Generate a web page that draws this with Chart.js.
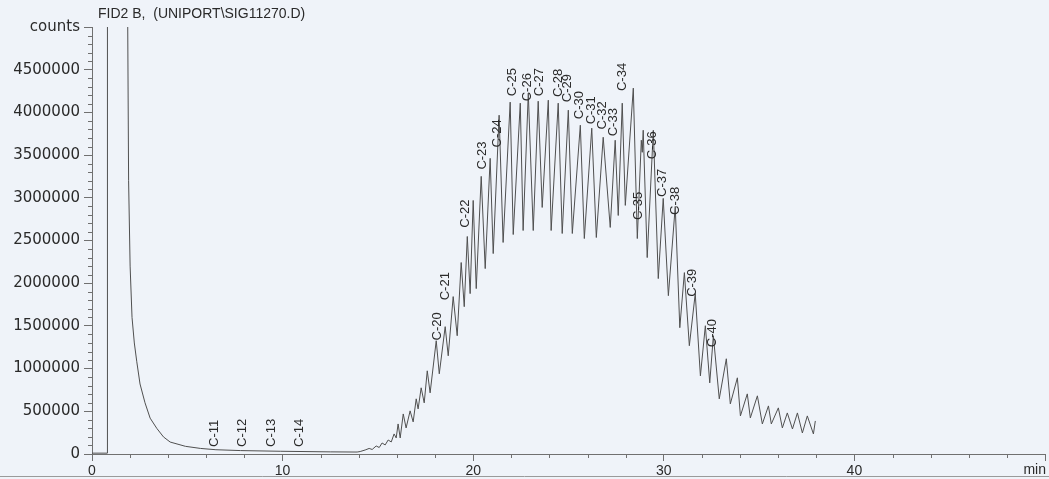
<!DOCTYPE html>
<html><head><meta charset="utf-8">
<script src="https://cdn.jsdelivr.net/npm/chart.js@4.4.1/dist/chart.umd.min.js"></script>
<style>html,body{margin:0;padding:0;background:#eff3f9;overflow:hidden}</style>
</head><body>
<canvas id="c" width="1049" height="479"></canvas>
<script>
// ---- data (retention time in min, signal in counts) ----
const times = [0, 0.80, 0.81, 1.86, 1.92, 2.00, 2.10, 2.22, 2.35, 2.52, 2.78, 3.05, 3.40, 3.75, 4.10, 4.90, 5.70, 6.50, 7.80, 9.90, 12.50, 13.91,
  14.07, 14.33, 14.54, 14.70, 14.91, 15.07, 15.22, 15.38, 15.54, 15.70, 15.85, 15.96, 16.06, 16.17, 16.33, 16.48, 16.69, 16.85,
  17.01, 17.11, 17.27, 17.43, 17.59, 17.74, 18.06, 18.22, 18.53, 18.69, 18.95, 19.16, 19.37, 19.53, 19.69, 19.84, 20.00, 20.16,
  20.42, 20.63, 20.89, 21.05, 21.36, 21.57, 21.94, 22.10, 22.47, 22.62, 22.89, 23.15, 23.41, 23.62, 23.94, 24.09, 24.46, 24.67,
  24.99, 25.20, 25.62, 25.83, 26.22, 26.46, 26.82, 27.19, 27.45, 27.61, 27.82, 27.98, 28.40, 28.61, 28.82, 28.87, 28.92, 29.13,
  29.45, 29.71, 29.97, 30.24, 30.60, 30.84, 31.08, 31.34, 31.65, 31.92, 32.18, 32.41, 32.60, 32.91, 33.28, 33.49, 33.86, 34.02,
  34.38, 34.54, 34.91, 35.17, 35.49, 35.64, 36.01, 36.22, 36.48, 36.75, 37.01, 37.27, 37.53, 37.85, 37.95];
const counts = [10000, 10000, 5600000, 5600000, 3200000, 2200000, 1600000, 1300000, 1080000, 820000, 600000, 420000, 300000, 200000, 140000, 90000, 65000, 50000, 40000, 32000, 25000, 23000,
  29000, 47000, 65000, 53000, 94000, 76000, 129000, 106000, 164000, 141000, 235000, 188000, 352000, 188000, 469000, 305000, 505000, 376000,
  646000, 528000, 775000, 599000, 974000, 716000, 1326000, 939000, 1491000, 1150000, 1843000, 1385000, 2242000, 1725000, 2547000, 1878000, 2969000, 1937000,
  3251000, 2171000, 3462000, 2347000, 3967000, 2477000, 4120000, 2570000, 4108000, 2617000, 4225000, 2617000, 4131000, 2887000, 4143000, 2617000, 4108000, 2582000,
  4026000, 2582000, 3850000, 2523000, 3815000, 2535000, 3709000, 2653000, 3674000, 2793000, 4108000, 2911000, 4284000, 2523000, 3674000, 3533000, 3791000, 2300000,
  3791000, 2054000, 2993000, 1854000, 2899000, 1479000, 2124000, 1268000, 1878000, 915000, 1502000, 833000, 1385000, 646000, 1115000, 587000, 892000, 446000,
  704000, 423000, 681000, 352000, 563000, 352000, 540000, 305000, 481000, 293000, 481000, 246000, 446000, 235000, 387000];

// ---- peak annotations ----
const peakNames = ['C-11','C-12','C-13','C-14','C-20','C-21','C-22','C-23','C-24','C-25','C-26','C-27','C-28','C-29','C-30',
  'C-31','C-32','C-33','C-34','C-35','C-36','C-37','C-38','C-39','C-40'];
const peakTimes = [6.40, 7.87, 9.40, 10.87, 18.11, 18.53, 19.58, 20.47, 21.26, 22.05, 22.83, 23.46, 24.46, 24.93, 25.56,
  26.19, 26.77, 27.35, 27.85, 28.66, 29.40, 29.92, 30.60, 31.50, 32.55];
const peakLabelCounts = [82000, 82000, 82000, 82000, 1330000, 1800000, 2650000, 3330000, 3590000, 4190000, 4130000, 4190000, 4180000, 4120000, 3920000,
  3860000, 3800000, 3720000, 4250000, 2740000, 3450000, 3010000, 2800000, 1840000, 1250000];

// ---- axes text ----
const titleText = 'FID2 B,  (UNIPORT\\SIG11270.D)';
const xMax = 50, yMax = 5000000;
const xUnitLabel = 'min';
const yTopLabel = 'counts';

const BG = '#eff3f9', AX = '#707070', TXT = '#2a2a2a';

const decor = {
  id: 'decor',
  beforeDraw(chart) {
    const c = chart.ctx;
    c.save(); c.fillStyle = BG; c.fillRect(0, 0, chart.width, chart.height); c.restore();
  },
  afterDraw(chart) {
    const c = chart.ctx, xs = chart.scales.x, ys = chart.scales.y;
    c.save();
    c.strokeStyle = AX; c.lineWidth = 1;
    c.beginPath();
    for (let t = 2; t < xMax; t += 2) {
      if (t % 10 === 0) continue;
      const px = Math.round(xs.getPixelForValue(t)) + 0.5;
      c.moveTo(px, xs.top); c.lineTo(px, xs.top + 4);
    }
    for (let v = 100000; v < yMax; v += 100000) {
      if (v % 500000 === 0) continue;
      const py = Math.round(ys.getPixelForValue(v)) + 0.5;
      c.moveTo(ys.right - 4, py); c.lineTo(ys.right, py);
    }
    c.stroke();
    // bottom frame line
    c.strokeStyle = '#9a9a9a';
    c.beginPath(); c.moveTo(0, 476.5); c.lineTo(chart.width, 476.5); c.stroke();
    // title
    c.fillStyle = TXT;
    c.font = '14px "Liberation Sans", Arial, sans-serif';
    c.textAlign = 'left'; c.textBaseline = 'alphabetic';
    c.fillText(titleText, 98, 18);
    // unit label at x end
    c.textAlign = 'right'; c.textBaseline = 'top';
    c.fillText(xUnitLabel, 1046, 463);
    c.restore();
  },
  afterDatasetsDraw(chart) {
    const c = chart.ctx, xs = chart.scales.x, ys = chart.scales.y;
    c.save();
    c.fillStyle = TXT;
    c.font = '13px "Liberation Sans", Arial, sans-serif';
    c.textAlign = 'left'; c.textBaseline = 'middle';
    peakNames.forEach((n, i) => {
      const px = xs.getPixelForValue(peakTimes[i]);
      const py = ys.getPixelForValue(peakLabelCounts[i]);
      c.save(); c.translate(px, py); c.rotate(-Math.PI / 2);
      c.fillText(n, 0, 0); c.restore();
    });
    c.restore();
  }
};

new Chart(document.getElementById('c'), {
  type: 'line',
  data: {
    datasets: [{
      data: times.map((t, i) => ({ x: t, y: counts[i] })),
      borderColor: '#505050', borderWidth: 1, pointRadius: 0, tension: 0, fill: false
    }]
  },
  options: {
    responsive: false, animation: false, devicePixelRatio: 1,
    layout: { padding: { top: 27, right: 4, bottom: 0, left: 0 } },
    plugins: { legend: { display: false }, tooltip: { enabled: false }, title: { display: false } },
    scales: {
      x: {
        type: 'linear', min: 0, max: xMax,
        border: { display: true, color: AX, width: 1 },
        grid: { display: true, drawOnChartArea: false, drawTicks: true, tickLength: 7, color: AX },
        ticks: { stepSize: 10, autoSkip: false, maxRotation: 0, padding: 2, color: TXT,
          font: { family: '"Liberation Sans", Arial, sans-serif', size: 14 },
          callback: v => (v === xMax ? '' : String(v)) },
        afterFit(s) { s.height = 25; s.paddingLeft = 0; s.paddingRight = 0; }
      },
      y: {
        type: 'linear', min: 0, max: yMax,
        border: { display: true, color: AX, width: 1 },
        grid: { display: true, drawOnChartArea: false, drawTicks: true, tickLength: 8, color: AX },
        ticks: { stepSize: 500000, autoSkip: false, padding: 4, color: TXT,
          font: { family: '"DejaVu Sans", sans-serif', size: 15 },
          callback: v => (v === yMax ? yTopLabel : String(v)) },
        afterFit(s) { s.width = 92; s.paddingTop = 0; s.paddingBottom = 0; }
      }
    }
  },
  plugins: [decor]
});
</script>
</body></html>
